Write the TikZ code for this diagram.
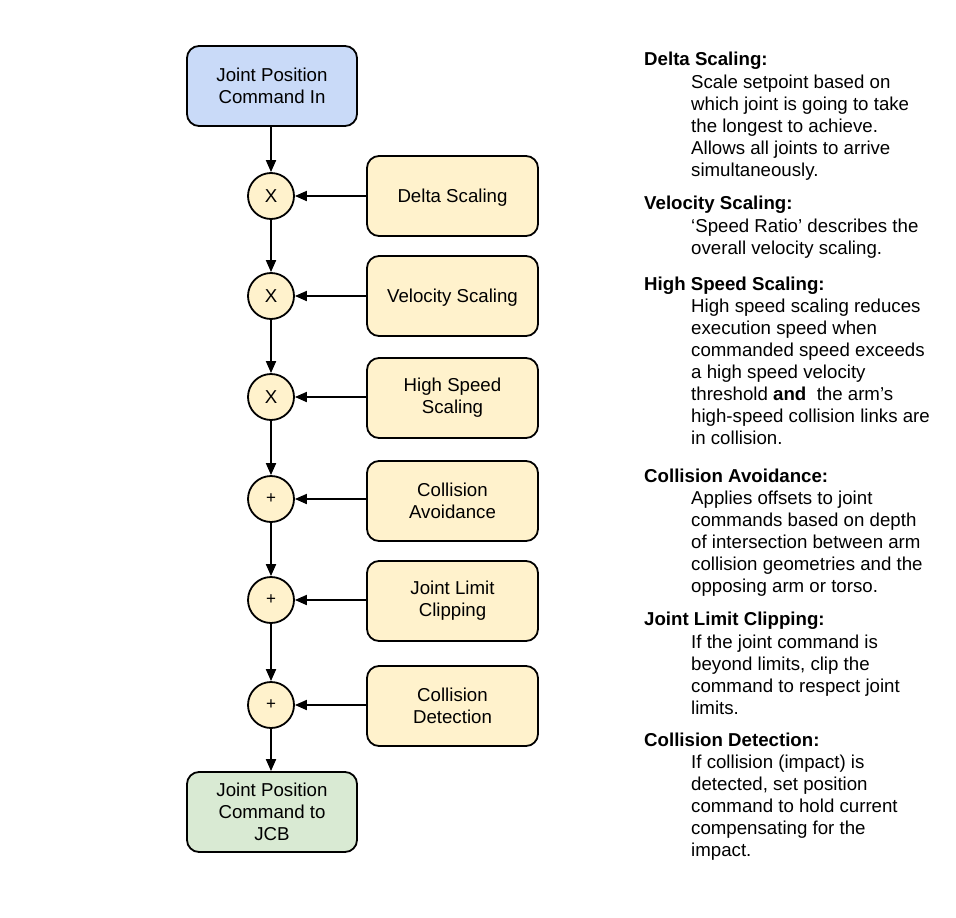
\documentclass[tikz,border=0pt]{standalone}
\usepackage{fontspec}
\setmainfont{Liberation Sans}
\usetikzlibrary{arrows.meta}
\definecolor{boxblue}{HTML}{C9DAF8}
\definecolor{boxyellow}{HTML}{FFF2CC}
\definecolor{boxgreen}{HTML}{D9EAD3}
\tikzset{
  blk/.style={draw=black, line width=1.8pt, rounded corners=12pt, minimum width=170pt, minimum height=80pt, align=center, inner sep=2pt, font=\fontsize{18.67}{22}\selectfont},
  oneline/.style={text depth=0pt},
  opnode/.style={draw=black, line width=1.8pt, circle, fill=boxyellow, minimum size=46pt, inner sep=0pt},
  conn/.style={line width=1.8pt, -{Triangle[length=12pt,width=10pt]}},
  head/.style={anchor=base west, inner sep=0pt, font=\fontsize{18.67}{22}\selectfont\bfseries},
  body/.style={anchor=base west, inner sep=0pt, font=\fontsize{18.67}{22}\selectfont},
}
\begin{document}
\begin{tikzpicture}[x=1pt,y=-1pt]
\useasboundingbox (0,0) rectangle (956,918);
\fill[white] (0,0) rectangle (956,918);
% left column
\node[blk, fill=boxblue] (in) at (272,86) {Joint Position\\Command In};
\node[opnode, font=\fontsize{18.67}{22}\selectfont, text depth=0pt] (c1) at (271,196) {X};
\node[opnode, font=\fontsize{18.67}{22}\selectfont, text depth=0pt] (c2) at (271,296) {X};
\node[opnode, font=\fontsize{18.67}{22}\selectfont, text depth=0pt] (c3) at (271,397) {X};
\node[opnode, font=\fontsize{17}{18}\selectfont] (c4) at (271,499) {+};
\node[opnode, font=\fontsize{17}{18}\selectfont] (c5) at (271,600) {+};
\node[opnode, font=\fontsize{17}{18}\selectfont] (c6) at (271,705) {+};
\node[blk, fill=boxgreen] (out) at (272,812) {Joint Position\\Command to\\JCB};
% right boxes
\node[blk, oneline, fill=boxyellow, minimum width=171pt] (b1) at (452.5,196) {Delta Scaling};
\node[blk, oneline, fill=boxyellow, minimum width=171pt] (b2) at (452.5,296) {Velocity Scaling};
\node[blk, fill=boxyellow, minimum width=171pt] (b3) at (452.5,398) {High Speed\\Scaling};
\node[blk, fill=boxyellow, minimum width=171pt] (b4) at (452.5,501) {Collision\\Avoidance};
\node[blk, fill=boxyellow, minimum width=171pt] (b5) at (452.5,601) {Joint Limit\\Clipping};
\node[blk, fill=boxyellow, minimum width=171pt] (b6) at (452.5,706) {Collision\\Detection};
% vertical chain
\draw[conn] (in.south -| c1) -- (c1.north);
\draw[conn] (c1) -- (c2);
\draw[conn] (c2) -- (c3);
\draw[conn] (c3) -- (c4);
\draw[conn] (c4) -- (c5);
\draw[conn] (c5) -- (c6);
\draw[conn] (c6.south) -- (c6.south |- out.north);
% horizontal inputs
\draw[conn] (b1.west) -- (c1.east);
\draw[conn] (b2.west) -- (c2.east);
\draw[conn] (b3.west |- c3) -- (c3.east);
\draw[conn] (b4.west |- c4) -- (c4.east);
\draw[conn] (b5.west |- c5) -- (c5.east);
\draw[conn] (b6.west |- c6) -- (c6.east);
% descriptions
\node[head] (h1) at (644,65) {Delta Scaling:};
\node[body] (t11) at (691,88) {Scale setpoint based on};
\node[body] (t12) at (691,110) {which joint is going to take};
\node[body] (t13) at (691,132) {the longest to achieve.};
\node[body] (t14) at (691,154) {Allows all joints to arrive};
\node[body] (t15) at (691,176) {simultaneously.};

\node[head] (h2) at (644,209) {Velocity Scaling:};
\node[body] (t21) at (691,232) {‘Speed Ratio’ describes the};
\node[body] (t22) at (691,254) {overall velocity scaling.};

\node[head] (h3) at (644,290) {High Speed Scaling:};
\node[body] (t31) at (691,312) {High speed scaling reduces};
\node[body] (t32) at (691,334) {execution speed when};
\node[body] (t33) at (691,356) {commanded speed exceeds};
\node[body] (t34) at (691,378) {a high speed velocity};
\node[body] (t35) at (691,400) {threshold \textbf{and}\ \ the arm’s};
\node[body] (t36) at (691,422) {high-speed collision links are};
\node[body] (t37) at (691,444) {in collision.};

\node[head] (h4) at (644,482) {Collision Avoidance:};
\node[body] (t41) at (691,504) {Applies offsets to joint};
\node[body] (t42) at (691,526) {commands based on depth};
\node[body] (t43) at (691,548) {of intersection between arm};
\node[body] (t44) at (691,570) {collision geometries and the};
\node[body] (t45) at (691,592) {opposing arm or torso.};

\node[head] (h5) at (644,625) {Joint Limit Clipping:};
\node[body] (t51) at (691,648) {If the joint command is};
\node[body] (t52) at (691,670) {beyond limits, clip the};
\node[body] (t53) at (691,692) {command to respect joint};
\node[body] (t54) at (691,714) {limits.};

\node[head] (h6) at (644,746) {Collision Detection:};
\node[body] (t61) at (691,768) {If collision (impact) is};
\node[body] (t62) at (691,790) {detected, set position};
\node[body] (t63) at (691,812) {command to hold current};
\node[body] (t64) at (691,834) {compensating for the};
\node[body] (t65) at (691,856) {impact.};
\end{tikzpicture}
\end{document}
